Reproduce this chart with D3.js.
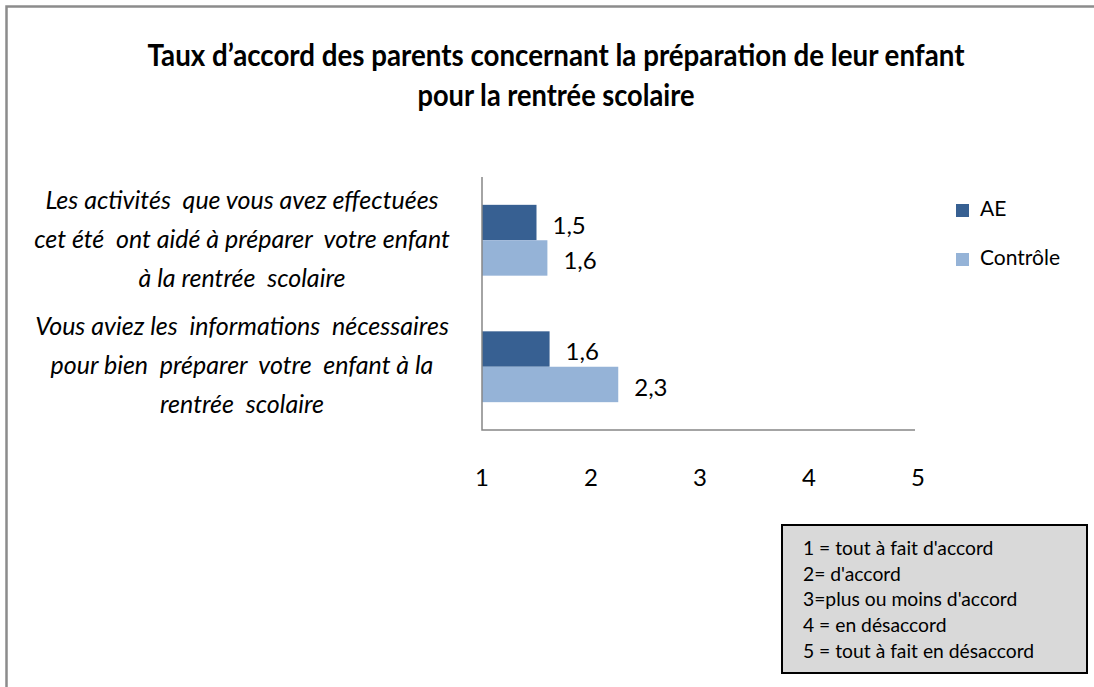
<!DOCTYPE html>
<html>
<head>
<meta charset="utf-8">
<script src="https://cdn.jsdelivr.net/npm/d3@7"></script>
<style>
  body { margin: 0; background: #fff; }
  text { font-family: Lato, "Open Sans", sans-serif; fill: #000; }
</style>
</head>
<body>
<svg id="chart" width="1094" height="687"></svg>
<script>
const titleLines = ['Taux d\u2019accord des parents concernant la préparation de leur enfant',
  'pour la rentrée scolaire'];
const categories = [
  ['Les activités  que vous avez effectuées', 'cet été  ont aidé à préparer  votre enfant', 'à la rentrée  scolaire'],
  ['Vous aviez les  informations  nécessaires', 'pour bien  préparer  votre  enfant à la', 'rentrée  scolaire']
];
const seriesNames = ['AE', 'Contrôle'];
const aeValues = [1.5, 1.62];
const controleValues = [1.6, 2.25];
const tickValues = [1, 2, 3, 4, 5];
const scaleNotes = ['1 = tout à fait d\'accord', '2= d\'accord', '3=plus ou moins d\'accord',
  '4 = en désaccord', '5 = tout à fait en désaccord'];
const colors = ['#376092', '#95b3d7'];

const svg = d3.select('#chart');

// outer frame (top and left edges visible)
svg.append('path')
  .attr('d', 'M6.5,687 V6.5 H1094')
  .style('fill', 'none')
  .style('stroke', '#8c8c8c')
  .style('stroke-width', 2.5);

// title
svg.append('g').selectAll('text')
  .data(titleLines)
  .join('text')
  .attr('x', 556)
  .attr('y', (d, i) => 66 + i * 40)
  .attr('text-anchor', 'middle')
  .attr('textLength', (d, i) => i === 0 ? 817 : 277)
  .attr('lengthAdjust', 'spacingAndGlyphs')
  .style('font-size', '31px')
  .style('font-weight', 'bold')
  .text(d => d);

// scales
const plot = {left: 482, right: 918, top: 177, bottom: 430};
const x = d3.scaleLinear().domain([1, 5]).range([plot.left, plot.right]);
const y = d3.scaleBand().domain(d3.range(categories.length))
  .range([plot.top, plot.bottom]).paddingInner(0.44).paddingOuter(0.22);
const ySub = d3.scaleBand().domain(seriesNames).range([0, y.bandwidth()]);

const rows = categories.map((c, i) => ({i, values: [aeValues[i], controleValues[i]]}));
const fmt = v => d3.format('.1f')(v).replace('.', ',');

// bars
const groups = svg.append('g').selectAll('g')
  .data(rows)
  .join('g')
  .attr('transform', d => `translate(0, ${y(d.i)})`);

groups.selectAll('rect')
  .data(d => d.values.map((v, k) => ({v, s: seriesNames[k], k})))
  .join('rect')
  .attr('x', x(1))
  .attr('y', d => ySub(d.s))
  .attr('width', d => x(d.v) - x(1))
  .attr('height', ySub.bandwidth())
  .style('fill', d => colors[d.k]);

groups.selectAll('text')
  .data(d => d.values.map((v, k) => ({v, s: seriesNames[k]})))
  .join('text')
  .attr('x', d => x(d.v) + 16)
  .attr('y', d => ySub(d.s) + ySub.bandwidth() / 2 + 5)
  .attr('dominant-baseline', 'middle')
  .style('font-size', '24px')
  .text(d => fmt(d.v));

// axes lines
svg.append('path')
  .attr('d', `M${plot.left},${plot.top} V${plot.bottom} H${plot.right - 3}`)
  .style('fill', 'none')
  .style('stroke', '#868686')
  .style('stroke-width', 1.5);

// x tick labels
svg.append('g').selectAll('text')
  .data(tickValues)
  .join('text')
  .attr('x', d => x(d))
  .attr('y', 480)
  .attr('text-anchor', 'middle')
  .attr('dominant-baseline', 'middle')
  .style('font-size', '24px')
  .text(d => d);

// category labels
const catG = svg.append('g').selectAll('g')
  .data(categories)
  .join('g')
  .attr('transform', (d, i) => `translate(242, ${y(i) + y.bandwidth() / 2 + 1})`);

catG.selectAll('text')
  .data(d => d)
  .join('text')
  .attr('x', 0)
  .attr('y', (d, j) => (j - 1) * 39)
  .attr('text-anchor', 'middle')
  .attr('dominant-baseline', 'middle')
  .style('font-size', '25px')
  .style('font-style', 'italic')
  .style('white-space', 'pre')
  .text(d => d);

// legend
const legend = svg.append('g').selectAll('g')
  .data(seriesNames)
  .join('g')
  .attr('transform', (d, i) => `translate(956, ${211 + i * 49})`);

legend.append('rect')
  .attr('x', 0)
  .attr('y', -7)
  .attr('width', 13)
  .attr('height', 13)
  .style('fill', (d, i) => colors[i]);

legend.append('text')
  .attr('x', 24)
  .attr('y', 0)
  .attr('dominant-baseline', 'middle')
  .style('font-size', '21px')
  .text(d => d);

// scale notes box
const box = svg.append('g').attr('transform', 'translate(782, 525)');
box.append('rect')
  .attr('width', 305)
  .attr('height', 148)
  .style('fill', '#d9d9d9')
  .style('stroke', '#000')
  .style('stroke-width', 2);

box.selectAll('text')
  .data(scaleNotes)
  .join('text')
  .attr('x', 21)
  .attr('y', (d, i) => 25 + i * 25.7)
  .attr('dominant-baseline', 'middle')
  .style('font-size', '19.3px')
  .text(d => d);
</script>
</body>
</html>
